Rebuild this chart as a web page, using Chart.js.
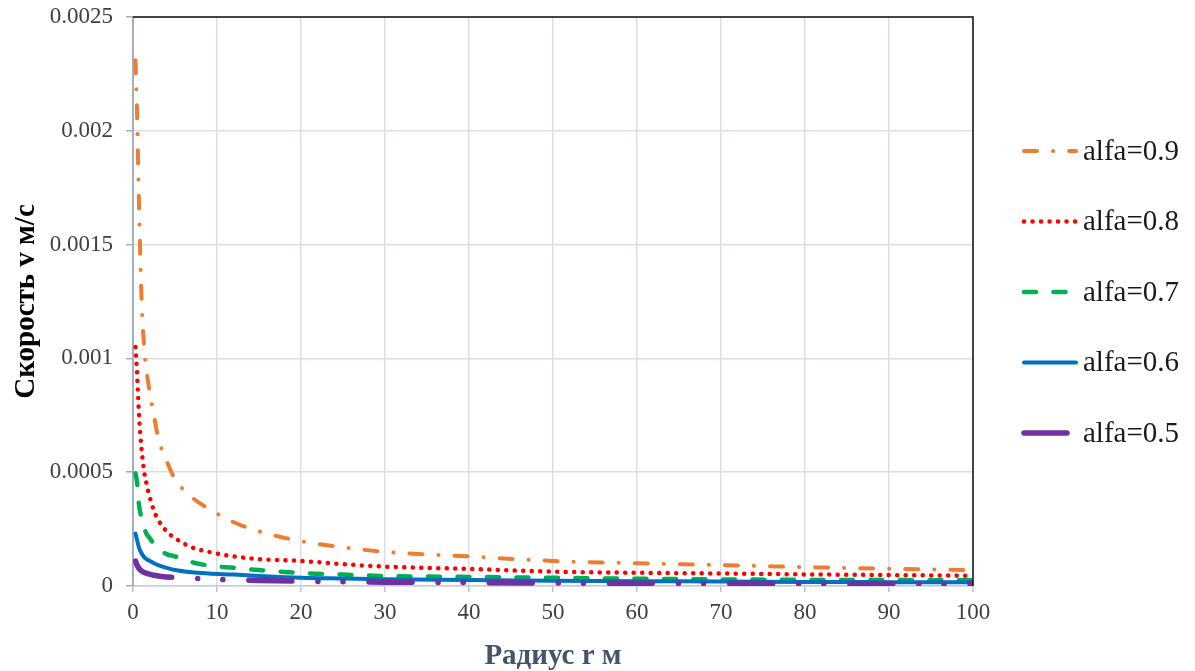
<!DOCTYPE html>
<html>
<head>
<meta charset="utf-8">
<title>Скорость v(r)</title>
<script src="https://cdn.jsdelivr.net/npm/chart.js@4.4.0/dist/chart.umd.min.js"></script>
<style>
    html, body { margin: 0; padding: 0; background: #fff; }
</style>
</head>
<body>
<canvas id="velocity-chart" width="1195" height="671"></canvas>
<script>
// --- Data ---
const radius = [0.3, 0.5, 0.7, 1, 1.3, 1.6, 2, 2.5, 3, 4, 5, 7, 9, 12, 15, 20, 25, 30, 40, 50, 60, 70, 80, 90, 100];

const alfa09 = [0.00231, 0.00205, 0.00170, 0.00128, 0.00106, 0.00095, 0.00085, 0.00075, 0.00065, 0.00055, 0.00047, 0.00039, 0.00034, 0.00028, 0.00024,
    0.000197, 0.00017, 0.00015, 0.00013, 0.00011, 0.0001, 0.000092, 0.000083, 0.000076, 0.00007];
const alfa08 = [0.00105, 0.00092, 0.00076, 0.00061, 0.00051, 0.00045, 0.00039, 0.00033, 0.00029, 0.00024, 0.00021, 0.00017, 0.00015, 0.00013, 0.000118,
    0.00011, 0.000096, 0.000085, 0.000075, 0.000063, 0.000058, 0.000055, 0.000051, 0.000048, 0.000045];
const alfa07 = [0.000495, 0.00045, 0.00036, 0.0003, 0.00026, 0.00023, 0.00021, 0.000184, 0.000165, 0.00014, 0.00013, 0.000105, 0.00009, 0.00008, 0.00007,
    0.000057, 0.00005, 0.000044, 0.00004, 0.000036, 0.000032, 0.000029, 0.000027, 0.000026, 0.000025];
const alfa06 = [0.00023, 0.0002, 0.00017, 0.000145, 0.000128, 0.000118, 0.00011, 0.0001, 0.000092, 0.00008, 0.00007, 0.00006, 0.000055, 0.00005, 0.000044,
    0.000036, 0.000033, 0.00003, 0.000026, 0.000023, 0.000021, 0.00002, 0.000018, 0.000017, 0.000016];
const alfa05 = [0.00011, 0.00009, 0.000078, 0.000066, 0.00006, 0.000056, 0.000052, 0.000047, 0.000044, 0.00004, 0.000037, 0.000034, 0.00003, 0.000027, 0.000024,
    0.000021, 0.000019, 0.000017, 0.000015, 0.000013, 0.000012, 0.000011, 0.00001, 0.0000095, 0.000009];

const seriesLabels = ['alfa=0.9', 'alfa=0.8', 'alfa=0.7', 'alfa=0.6', 'alfa=0.5'];
const xTicks = [0, 10, 20, 30, 40, 50, 60, 70, 80, 90, 100];
const yTicks = [0, 0.0005, 0.001, 0.0015, 0.002, 0.0025];

const SERIF = '"Liberation Serif", "Times New Roman", "DejaVu Serif", serif';

const toPoints = (values) => radius.map((r, i) => ({ x: r, y: values[i] }));

// line looks: colour, width, dash, cap
const styles = [
    { color: '#ED7D31', width: 4, dash: [13, 16, 0.1, 16], cap: 'round' },
    { color: '#FF0000', width: 4.5, dash: [0.1, 8.4], cap: 'round' },
    { color: '#00B050', width: 4.5, dash: [12, 17.5], cap: 'round' },
    { color: '#0070C0', width: 4, dash: [], cap: 'round' },
    { color: '#7030A0', width: 5.5, dash: [43, 26, 0.1, 25, 0.1, 26], cap: 'round' }
];

const seriesValues = [alfa09, alfa08, alfa07, alfa06, alfa05];

const datasets = seriesValues.map((values, i) => ({
    label: seriesLabels[i],
    data: toPoints(values),
    borderColor: styles[i].color,
    backgroundColor: styles[i].color,
    borderWidth: styles[i].width,
    borderDash: styles[i].dash,
    borderCapStyle: styles[i].cap,
    borderJoinStyle: 'round',
    pointRadius: 0,
    fill: false,
    cubicInterpolationMode: 'monotone',
    order: seriesValues.length - i // later series drawn on top, as in the original
}));

// --- Plot frame (black top/right edge) and the legend on the right ---
const frameAndLegend = {
    id: 'frameAndLegend',
    afterDatasetsDraw(chart) {
        const { ctx, chartArea } = chart;
        ctx.save();
        ctx.strokeStyle = '#111';
        ctx.lineWidth = 1.5;
        ctx.beginPath();
        ctx.moveTo(chartArea.left, chartArea.top);
        ctx.lineTo(chartArea.right, chartArea.top);
        ctx.lineTo(chartArea.right, chartArea.bottom);
        ctx.stroke();
        ctx.restore();
    },
    afterDraw(chart) {
        const { ctx } = chart;
        const x0 = 1022, sampleLen = 56, y0 = 151, step = 70.5;
        ctx.save();
        chart.data.datasets.forEach((ds, i) => {
            const y = y0 + i * step;
            ctx.strokeStyle = ds.borderColor;
            ctx.lineWidth = ds.borderWidth;
            ctx.lineCap = ds.borderCapStyle;
            ctx.setLineDash(ds.borderDash);
            ctx.beginPath();
            ctx.moveTo(x0 + 2, y);
            ctx.lineTo(x0 + sampleLen - 2, y);
            ctx.stroke();
            ctx.setLineDash([]);
            ctx.fillStyle = '#1a1a1a';
            ctx.font = `29px ${SERIF}`;
            ctx.textAlign = 'left';
            ctx.textBaseline = 'middle';
            ctx.fillText(ds.label, x0 + sampleLen + 5, y + 1);
        });
        ctx.restore();
    }
};

document.addEventListener('DOMContentLoaded', () => {
    const ctx = document.getElementById('velocity-chart');

    new Chart(ctx, {
        type: 'line',
        data: { datasets: datasets },
        options: {
            responsive: false,
            devicePixelRatio: 1,
            animation: false,
            layout: { padding: { top: 17, right: 222, bottom: 0, left: 0 } },
            plugins: {
                legend: { display: false },
                tooltip: { enabled: false }
            },
            scales: {
                x: {
                    type: 'linear',
                    min: 0,
                    max: 100,
                    afterBuildTicks: (scale) => { scale.ticks = xTicks.map(v => ({ value: v })); },
                    afterFit: (scale) => { scale.height = 85; },
                    grid: { color: '#D9DEE7', lineWidth: 1.5, tickLength: 6, tickColor: '#B8C1D0' },
                    border: { color: '#C3CBD8', width: 1.5 },
                    ticks: {
                        color: '#404040',
                        font: { family: SERIF, size: 23 },
                        padding: 7,
                        maxRotation: 0
                    },
                    title: {
                        display: true,
                        text: 'Радиус r м',
                        color: '#44546A',
                        font: { family: SERIF, size: 29, weight: 'bold' },
                        padding: { top: 0, bottom: -3 }
                    }
                },
                y: {
                    min: 0,
                    max: 0.0025,
                    afterBuildTicks: (scale) => { scale.ticks = yTicks.map(v => ({ value: v })); },
                    afterFit: (scale) => {
                        scale.width = 133;
                        // labels may overhang the plot edges; the frame is placed by layout padding
                        scale.paddingTop = 0;
                        scale.paddingBottom = 0;
                    },
                    grid: { color: '#D9DEE7', lineWidth: 1.5, tickLength: 7, tickColor: '#A3AEC1' },
                    border: { color: '#A3AEC1', width: 2 },
                    ticks: {
                        color: '#404040',
                        font: { family: SERIF, size: 23 },
                        padding: 13,
                        callback: (value) => String(+value.toFixed(4))
                    },
                    title: {
                        display: true,
                        text: 'Скорость v м/с',
                        color: '#000',
                        font: { family: SERIF, size: 29, weight: 'bold' },
                        padding: { top: 9, bottom: 0 }
                    }
                }
            }
        },
        plugins: [frameAndLegend]
    });
});
</script>
</body>
</html>
